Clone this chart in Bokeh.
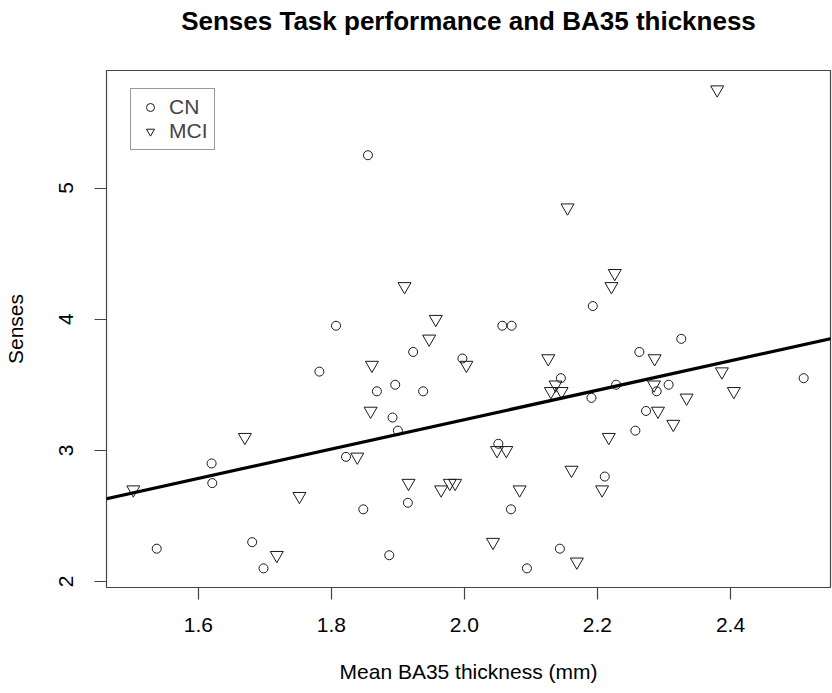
from bokeh.plotting import figure
from bokeh.models import (Range1d, FixedTicker, PrintfTickFormatter, Legend,
                          LegendItem, Slope, ColumnDataSource, Title)
from bokeh.embed import file_html
from bokeh.resources import INLINE

# ---- data ----
cn_thickness = [1.807, 1.855, 2.057, 2.071, 2.193, 1.782, 1.620, 1.621, 1.5375,
                1.681, 1.698, 1.822, 1.923, 1.997, 2.145, 2.191, 1.8685, 1.896,
                1.938, 1.892, 1.900, 2.051, 1.848, 1.915, 2.070, 1.887, 2.1435,
                2.094, 2.326, 2.263, 2.510, 2.228, 2.289, 2.307, 2.273, 2.257, 2.211]
cn_senses = [3.95, 5.25, 3.95, 3.95, 4.10, 3.60, 2.90, 2.75, 2.25,
             2.30, 2.10, 2.95, 3.75, 3.70, 3.55, 3.40, 3.45, 3.50,
             3.45, 3.25, 3.15, 3.05, 2.55, 2.60, 2.55, 2.20, 2.25,
             2.10, 3.85, 3.75, 3.55, 3.50, 3.45, 3.50, 3.30, 3.15, 2.80]

mci_thickness = [2.155, 1.910, 1.957, 2.380, 2.226, 2.221, 1.670, 1.5023, 1.752,
                 1.718, 1.947, 1.861, 2.003, 2.126, 2.137, 2.130, 2.146, 1.859,
                 1.839, 2.049, 2.063, 2.161, 1.916, 1.965, 1.978, 1.986, 2.083,
                 2.043, 2.169, 2.286, 2.387, 2.285, 2.405, 2.334, 2.291, 2.314,
                 2.217, 2.207]
mci_senses = [4.85, 4.25, 4.00, 5.75, 4.35, 4.25, 3.10, 2.70, 2.65,
              2.20, 3.85, 3.65, 3.65, 3.70, 3.50, 3.45, 3.45, 3.30,
              2.95, 3.00, 3.00, 2.85, 2.75, 2.70, 2.75, 2.75, 2.70,
              2.30, 2.15, 3.70, 3.60, 3.50, 3.45, 3.40, 3.30, 3.20,
              3.10, 2.70]

fit_intercept = 0.994
fit_slope = 1.120

x_ticks = [1.6, 1.8, 2.0, 2.2, 2.4]
y_ticks = [2, 3, 4, 5]

# R-style 4% padded ranges
all_x = cn_thickness + mci_thickness
all_y = cn_senses + mci_senses
xpad = 0.04 * (max(all_x) - min(all_x))
ypad = 0.04 * (max(all_y) - min(all_y))

FONT = "Liberation Sans"
INK = "#1a1a1a"

p = figure(output_backend="svg", toolbar_location=None, title=None,
           frame_width=724, frame_height=517,
           min_border_left=103, min_border_right=5,
           min_border_top=70, min_border_bottom=106,
           x_range=Range1d(min(all_x) - xpad, max(all_x) + xpad),
           y_range=Range1d(min(all_y) - ypad, max(all_y) + ypad),
           x_axis_label="Mean BA35 thickness (mm)", y_axis_label="Senses")

p.background_fill_color = "white"
p.border_fill_color = "white"
p.outline_line_color = "#444444"
p.outline_line_width = 1.2
p.grid.visible = False

# spacer between frame and title (closest to the frame), then the title
p.add_layout(Title(text=" ", text_font_size="10px", standoff=22,
                   text_color="white"), "above")
p.add_layout(Title(text="Senses Task performance and BA35 thickness",
                   align="center", text_font=FONT, text_font_size="26px",
                   text_font_style="bold", text_color="black", standoff=0),
             "above")

for ax in (p.xaxis[0], p.yaxis[0]):
    ax.axis_line_color = None
    ax.major_tick_line_color = "#444444"
    ax.major_tick_line_width = 1.2
    ax.major_tick_out = 12
    ax.major_tick_in = 0
    ax.minor_tick_line_color = None
    ax.major_label_text_font = FONT
    ax.major_label_text_font_size = "21px"
    ax.major_label_text_color = "black"
    ax.axis_label_text_font = FONT
    ax.axis_label_text_font_size = "21px"
    ax.axis_label_text_font_style = "normal"
    ax.axis_label_text_color = "black"

p.xaxis[0].ticker = FixedTicker(ticks=x_ticks)
p.xaxis[0].formatter = PrintfTickFormatter(format="%.1f")
p.xaxis[0].major_label_standoff = 18
p.xaxis[0].axis_label_standoff = 25

p.yaxis[0].ticker = FixedTicker(ticks=y_ticks)
p.yaxis[0].formatter = PrintfTickFormatter(format="%d")
p.yaxis[0].major_label_orientation = "vertical"
p.yaxis[0].major_label_standoff = 21
p.yaxis[0].axis_label_standoff = 30

cn_src = ColumnDataSource(dict(x=cn_thickness, y=cn_senses))
mci_src = ColumnDataSource(dict(x=mci_thickness, y=mci_senses))

r_cn = p.scatter("x", "y", source=cn_src, marker="circle", size=9,
                 fill_color=None, line_color=INK, line_width=1)
r_mci = p.scatter("x", "y", source=mci_src, marker="inverted_triangle", size=13,
                  fill_color=None, line_color=INK, line_width=1)

p.add_layout(Slope(gradient=fit_slope, y_intercept=fit_intercept,
                   line_color="black", line_width=3.2))

legend = Legend(items=[LegendItem(label="CN", renderers=[r_cn]),
                       LegendItem(label="MCI", renderers=[r_mci])],
                location=(24, 437), margin=0, padding=6, spacing=-3,
                glyph_width=26, glyph_height=20, label_standoff=6,
                label_text_font=FONT, label_text_font_size="21px",
                label_height=20,
                border_line_color="#333333", border_line_width=1.2,
                background_fill_color="white", background_fill_alpha=1)
p.add_layout(legend)

open("out.html", "w").write(file_html(p, INLINE))
